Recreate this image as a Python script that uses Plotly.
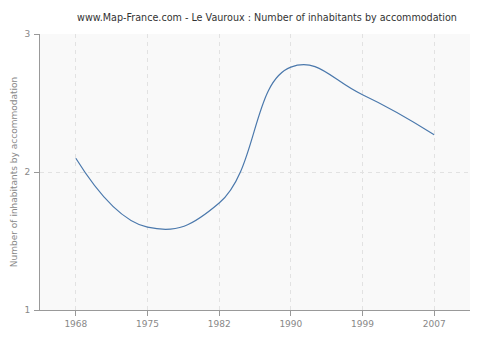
import plotly.graph_objects as go

years = ["1968", "1975", "1982", "1990", "1999", "2007"]
values = [2.1, 1.6, 1.775, 2.76, 2.56, 2.27]
y_ticks = [1, 2, 3]

fig = go.Figure()
fig.add_trace(go.Scatter(
    x=years, y=values, mode="lines",
    line=dict(color="#4a78ac", width=1.2, shape="spline", smoothing=1.3),
    hoverinfo="skip",
))

fig.add_shape(type="path", xref="paper", yref="paper", layer="below",
              path="M 0.012 0.015 L 0.988 0.015 Q 0.998 0.015 0.998 0.03 L 0.998 0.97 Q 0.998 0.985 0.988 0.985 L 0.012 0.985 Q 0.002 0.985 0.002 0.97 L 0.002 0.03 Q 0.002 0.015 0.012 0.015 Z",
              fillcolor="#efefef", line=dict(color="#e2e2e2", width=1))
fig.add_shape(type="rect", xref="x domain", yref="y domain", layer="below",
              x0=0, x1=1, y0=0, y1=1, fillcolor="#f9f9f9", line=dict(width=0))

fig.update_layout(
    width=500, height=340,
    margin=dict(l=40, r=30, t=34, b=30, autoexpand=False),
    paper_bgcolor="white",
    plot_bgcolor="#f9f9f9",
    font=dict(family="DejaVu Sans", size=9, color="#888"),
    title=dict(text="www.Map-France.com - Le Vauroux : Number of inhabitants by accommodation",
               x=0.534, xanchor="center", y=0.947, yanchor="middle",
               font=dict(family="DejaVu Sans", size=9.6, color="#333")),
    showlegend=False,
    xaxis=dict(type="category", range=[-0.5, 5.5], showgrid=True, gridcolor="#e2e2e2",
               griddash="4px,4px", gridwidth=1, showline=True, linecolor="#999", linewidth=1,
               ticks="outside", ticklen=5, tickcolor="#999", tickfont=dict(size=9, color="#888"),
               zeroline=False, fixedrange=True, automargin=False),
    yaxis=dict(range=[1, 3], tickvals=y_ticks, showgrid=True, gridcolor="#e2e2e2",
               griddash="4px,4px", gridwidth=1, showline=True, linecolor="#999", linewidth=1,
               ticks="outside", ticklen=5, tickcolor="#999", tickfont=dict(size=9, color="#888"),
               ticklabelstandoff=2, automargin=False,
               zeroline=False, fixedrange=True,
               title=dict(text="Number of inhabitants by accommodation", standoff=5,
                          font=dict(size=9, color="#888"))),
)

fig.write_html("out.html")
